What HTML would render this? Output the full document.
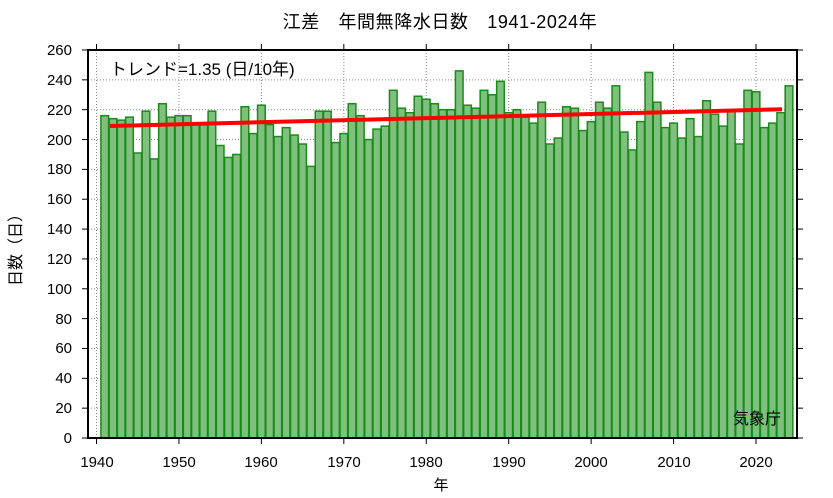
<!DOCTYPE html>
<html><head><meta charset="utf-8"><style>
body{margin:0;background:#fff}
svg{display:block}
text{font-family:"Liberation Sans","Noto Sans CJK JP",sans-serif;fill:#000}
</style></head><body>
<svg id="s" width="833" height="498" viewBox="0 0 833 498" xmlns="http://www.w3.org/2000/svg">
<rect x="0" y="0" width="833" height="498" fill="#fff"/>
<g id="grid" stroke="#888" stroke-width="1" stroke-dasharray="1,2"></g>
<g id="bars" fill="#7fc07f" stroke="#1a8a1a" stroke-width="1.5"></g>
<line x1="110" y1="126" x2="782" y2="109.3" stroke="#ff0000" stroke-width="4"/>
<rect x="88" y="50" width="709" height="388" fill="none" stroke="#000" stroke-width="2"/>
<g id="ticks" stroke="#000" stroke-width="1"></g>
<g font-size="15" text-anchor="end">
<text x="72" y="55">260</text><text x="72" y="85">240</text><text x="72" y="115">220</text>
<text x="72" y="145">200</text><text x="72" y="174">180</text><text x="72" y="204">160</text>
<text x="72" y="234">140</text><text x="72" y="264">120</text><text x="72" y="294">100</text>
<text x="72" y="324">80</text><text x="72" y="353">60</text><text x="72" y="383">40</text>
<text x="72" y="413">20</text><text x="72" y="443">0</text>
</g>
<g font-size="15" text-anchor="middle">
<text x="97" y="467">1940</text><text x="179" y="467">1950</text><text x="261" y="467">1960</text>
<text x="344" y="467">1970</text><text x="426" y="467">1980</text><text x="509" y="467">1990</text>
<text x="591" y="467">2000</text><text x="674" y="467">2010</text><text x="756" y="467">2020</text>
</g>
<text x="440" y="28" font-size="18" letter-spacing="0.6" text-anchor="middle">江差　年間無降水日数　1941-2024年</text>
<text x="110" y="75" font-size="17">トレンド=1.35 (日/10年)</text>
<text x="757" y="424" font-size="16" text-anchor="middle">気象庁</text>
<text x="441" y="490" font-size="15" text-anchor="middle">年</text>
<text transform="translate(21,246) rotate(-90)" font-size="16" text-anchor="middle">日数（日）</text>
</svg>
<script>
var v=[216,214,213,215,191,219,187,224,215,216,216,210,210,219,196,188,190,222,204,223,210,202,208,203,197,182,219,219,198,204,224,216,200,207,209,233,221,218,229,227,224,220,220,246,223,221,233,230,239,218,220,215,211,225,197,201,222,221,206,212,225,221,236,205,193,212,245,225,208,211,201,214,202,226,217,209,220,197,233,232,208,211,218,236];
var ns="http://www.w3.org/2000/svg";
function el(p,t,a){var e=document.createElementNS(ns,t);for(var k in a)e.setAttribute(k,a[k]);p.appendChild(e);}
var y0=438,sc=388/260,x0=96.5,dx=8.244;
var g=document.getElementById('grid'),b=document.getElementById('bars'),t=document.getElementById('ticks');
for(var i=20;i<260;i+=20){var y=y0-i*sc;el(g,'line',{x1:88,x2:797,y1:y,y2:y});}
for(var yr=1940;yr<=2020;yr+=10){var x=x0+(yr-1940)*dx;el(g,'line',{x1:x,x2:x,y1:50,y2:438});
el(t,'line',{x1:x,x2:x,y1:438,y2:444});el(t,'line',{x1:x,x2:x,y1:44,y2:50});}
for(var i=0;i<=260;i+=20){var y=y0-i*sc;el(t,'line',{x1:82,x2:88,y1:y,y2:y});el(t,'line',{x1:797,x2:803,y1:y,y2:y});}
for(var i=0;i<v.length;i++){var x=x0+(i+1)*dx-dx/2+0.3;var h=v[i]*sc;el(b,'rect',{x:x,y:y0-h,width:dx-0.6,height:h});}
</script>
</body></html>
